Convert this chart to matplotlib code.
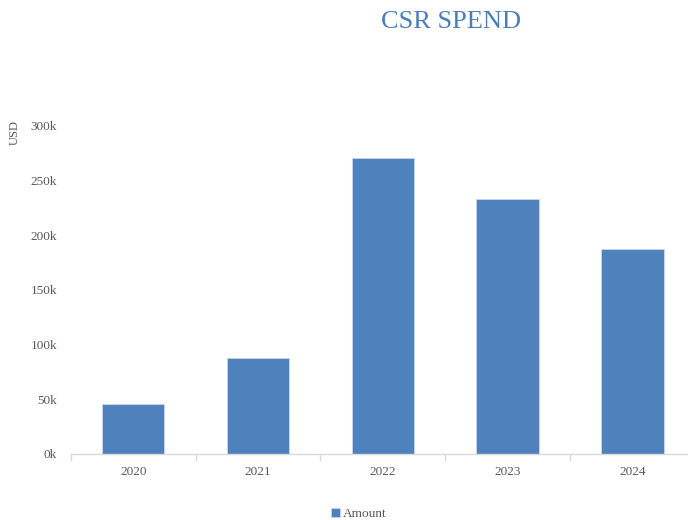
import matplotlib.pyplot as plt
from matplotlib.ticker import FuncFormatter, FixedLocator

years = ["2020", "2021", "2022", "2023", "2024"]
amount = [46000, 88000, 271000, 233000, 187000]
y_ticks = [0, 50000, 100000, 150000, 200000, 250000, 300000]

bar_color = "#4F81BD"
text_gray = "#595959"

plt.rcParams["font.family"] = ["Liberation Serif", "DejaVu Serif"]

fig = plt.figure(figsize=(6.88, 5.2), dpi=100)
ax = fig.add_axes([0.103, 0.127, 0.907, 0.631])

x = list(range(len(years)))
ax.bar(x, amount, width=0.5, color=bar_color, edgecolor="#C9D6EA",
       linewidth=0.6, label="Amount", zorder=2)

ax.set_xlim(-0.5, len(years) - 0.5)
ax.set_ylim(0, 300000)
ax.set_yticks(y_ticks)
ax.yaxis.set_major_formatter(FuncFormatter(lambda v, p: f"{int(v / 1000)}k"))

# category labels centred under bars, tick marks on the boundaries
ax.set_xticks(x)
ax.set_xticklabels(years)
ax.xaxis.set_minor_locator(FixedLocator([i - 0.5 for i in range(len(years) + 1)]))
ax.tick_params(axis="x", which="major", length=0, pad=9, labelsize=9.5, labelcolor=text_gray)
ax.tick_params(axis="x", which="minor", length=5, color="#D9D9D9", width=1)
ax.tick_params(axis="y", length=0, pad=10, labelsize=9.5, labelcolor=text_gray)

for side in ["top", "right", "left"]:
    ax.spines[side].set_visible(False)
ax.spines["bottom"].set_color("#D9D9D9")
ax.spines["bottom"].set_linewidth(1)

fig.text(0.656, 0.958, "CSR SPEND", ha="center", va="center",
         fontsize=19, color="#4A7EBB")
fig.text(0.022, 0.745, "USD", rotation=90, ha="center", va="center",
         fontsize=9, color=text_gray)

ax.legend(loc="center", bbox_to_anchor=(0.461, -0.182), frameon=False,
          fontsize=9.5, labelcolor=text_gray, handlelength=0.7,
          handleheight=0.7, handletextpad=0.2)

fig.savefig("out.png", dpi=100)
